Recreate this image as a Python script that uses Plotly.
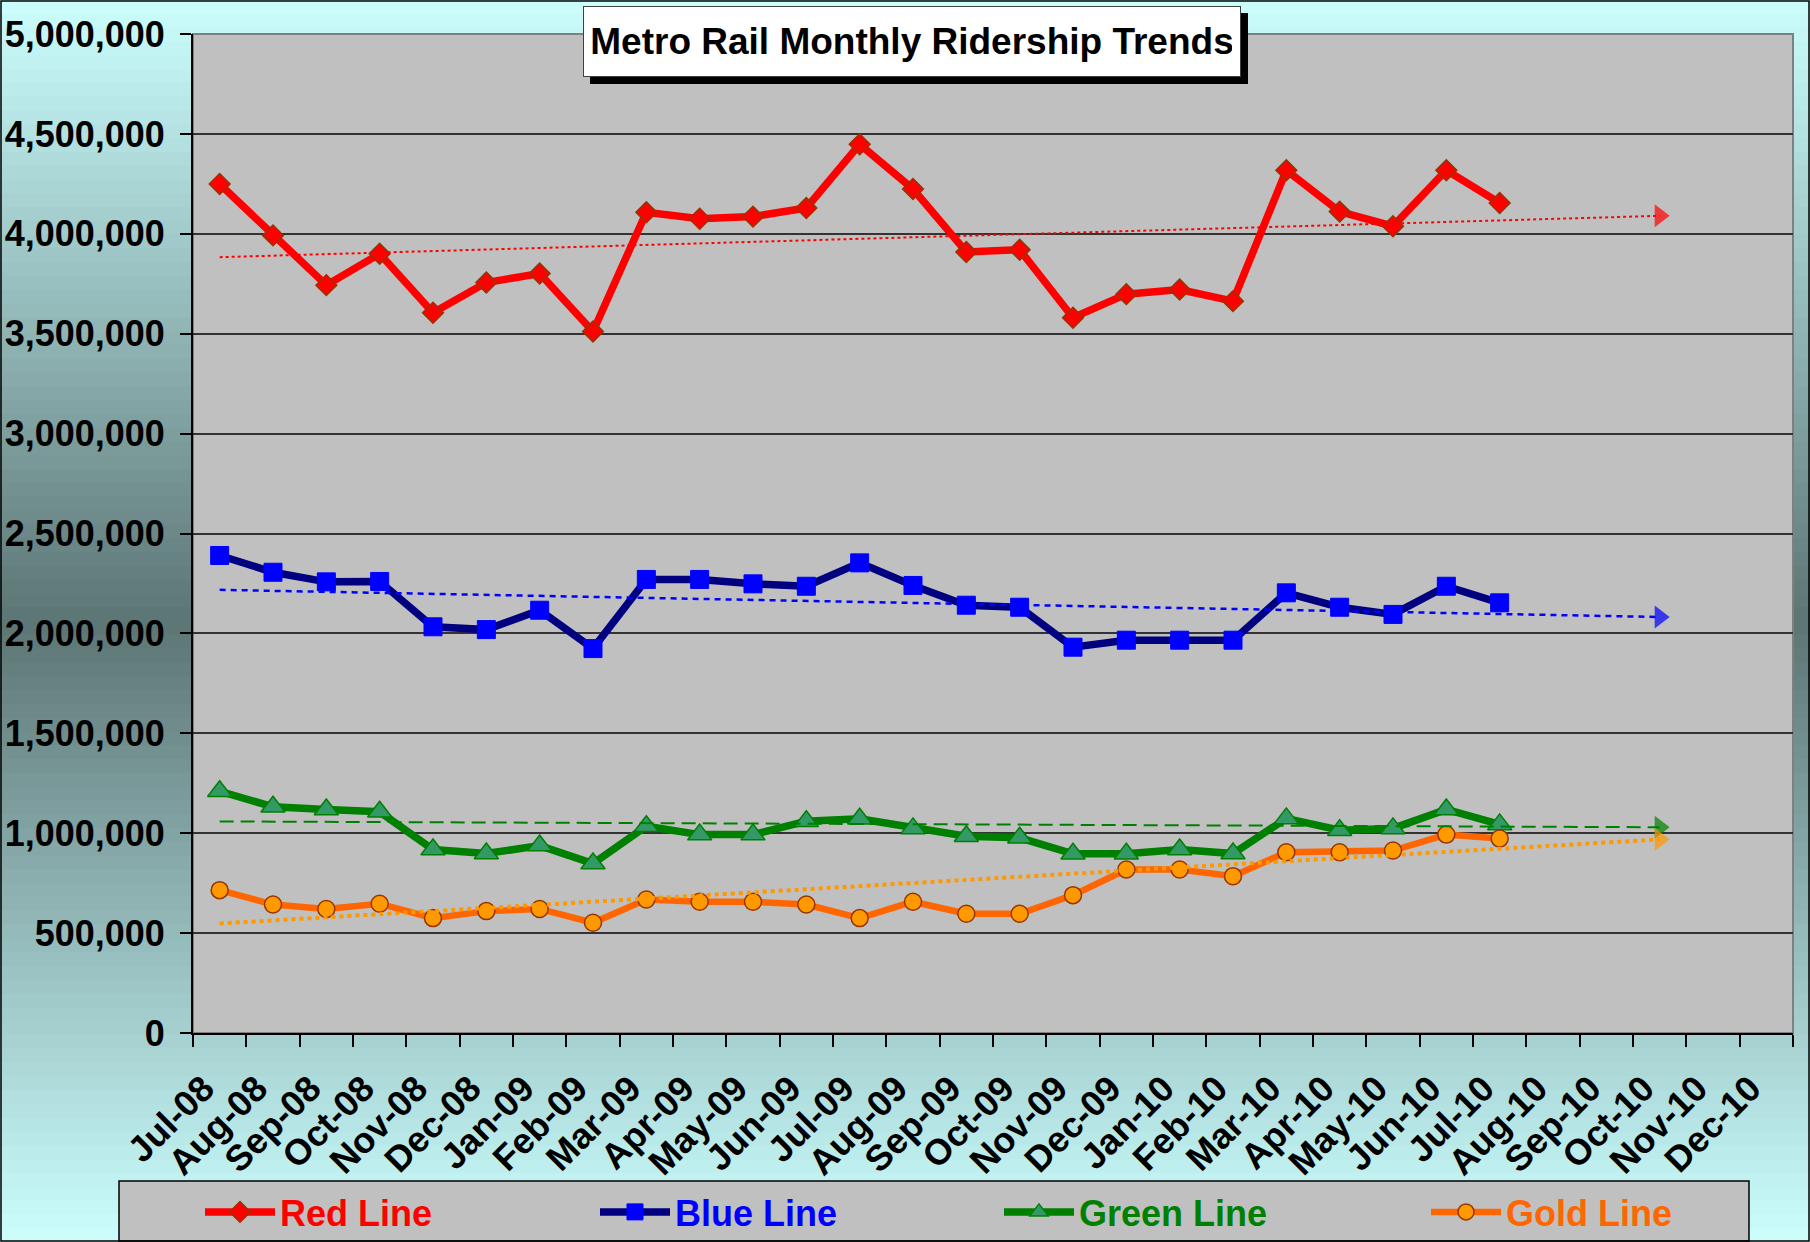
import plotly.graph_objects as go

# ---- data ----
months = ['Jul-08', 'Aug-08', 'Sep-08', 'Oct-08', 'Nov-08', 'Dec-08',
          'Jan-09', 'Feb-09', 'Mar-09', 'Apr-09', 'May-09', 'Jun-09',
          'Jul-09', 'Aug-09', 'Sep-09', 'Oct-09', 'Nov-09', 'Dec-09',
          'Jan-10', 'Feb-10', 'Mar-10', 'Apr-10', 'May-10', 'Jun-10',
          'Jul-10', 'Aug-10', 'Sep-10', 'Oct-10', 'Nov-10', 'Dec-10']

red_line = [4249000, 3992000, 3743000, 3900000, 3605000, 3756000, 3801000, 3511000,
            4108000, 4075000, 4086000, 4129000, 4448000, 4224000, 3909000, 3920000,
            3580000, 3698000, 3721000, 3663000, 4318000, 4111000, 4038000, 4318000, 4154000]
blue_line = [2390000, 2306000, 2258000, 2260000, 2033000, 2019000, 2116000, 1924000,
             2270000, 2270000, 2248000, 2236000, 2353000, 2240000, 2141000, 2131000,
             1931000, 1966000, 1966000, 1966000, 2203000, 2131000, 2095000, 2236000, 2153000]
green_line = [1210000, 1132000, 1119000, 1107000, 918000, 898000, 938000, 848000,
              1035000, 993000, 993000, 1060000, 1072000, 1024000, 985000, 977000,
              897000, 897000, 918000, 898000, 1074000, 1015000, 1024000, 1119000, 1044000]
gold_line = [715000, 643000, 621000, 647000, 575000, 610000, 621000, 552000,
             668000, 657000, 657000, 643000, 575000, 657000, 597000, 597000,
             690000, 818000, 818000, 785000, 905000, 905000, 913000, 993000, 973000]

# trendline ends (first month and forecast end), as drawn on the chart
trend_months = ['Jul-08', 'Oct-10']
red_trend = [3883000, 4090000]
blue_trend = [2218000, 2082000]
green_trend = [1059000, 1030000]
gold_trend = [548000, 969000]

# ---- figure geometry ----
W, H = 1810, 1242
L, R, T, B = 193, 17, 34, 209
PW, PH = W - L - R, H - T - B
FONT = 'Liberation Sans, Arial, sans-serif'

def px(x):
    return (x - L) / PW

def py(y):
    return (H - B - y) / PH

pos = {m: i for i, m in enumerate(months)}
x = [pos[m] for m in months[:len(red_line)]]
xt = [pos[m] for m in trend_months]

series = [
    ('Red Line', red_line, red_trend, '#ff0000', dict(symbol='diamond', size=16, color='#ff0000', line=dict(color='#993300', width=1.5)),
     dict(color='#ff0000', width=2, dash='dot'), '#ff0000', 280),
    ('Blue Line', blue_line, blue_trend, '#000080', dict(symbol='square', size=18, color='#0000ff', line=dict(color='#0000ff', width=1)),
     dict(color='#0000ff', width=2.5, dash='6px,5px'), '#0000ff', 675),
    ('Green Line', green_line, green_trend, '#008000', dict(symbol='triangle-up', size=21, color='#339966', line=dict(color='#008000', width=1.5)),
     dict(color='#008000', width=2, dash='14px,7px'), '#008000', 1079),
    ('Gold Line', gold_line, gold_trend, '#ff6600', dict(symbol='circle', size=17, color='#ff9900', line=dict(color='#993300', width=1.5)),
     dict(color='#ff9900', width=4, dash='dot'), '#ff6600', 1506),
]

fig = go.Figure()
legend_names = ['legend', 'legend2', 'legend3', 'legend4']

for (name, vals, trend, lc, mk, tl, txtc, tx), lg in zip(series, legend_names):
    fig.add_trace(go.Scatter(x=x, y=vals, name=name, mode='lines+markers',
                             line=dict(color=lc, width=7.5 if name != 'Gold Line' else 6.5),
                             marker=mk, legend=lg))

for (name, vals, trend, lc, mk, tl, txtc, tx) in series:
    fig.add_trace(go.Scatter(x=xt, y=trend, mode='lines+markers', line=tl,
                             marker=dict(symbol='triangle-right', size=[0, 20], color=tl['color'], line=dict(width=0)),
                             showlegend=False, hoverinfo='skip'))

# background gradient (light cyan -> dark slate -> light cyan)
shapes = []
light = (204, 255, 255)
dark = (92, 116, 116)
n = 90
for k in range(n):
    y0 = k * H / n
    y1 = (k + 1) * H / n
    t = abs((y0 + y1) / 2 - H / 2) / (H / 2)
    c = tuple(int(round(d + (l - d) * t)) for d, l in zip(dark, light))
    shapes.append(dict(type='rect', xref='paper', yref='paper', layer='below',
                       x0=px(0), x1=px(W), y0=py(y1 + 0.7), y1=py(y0),
                       fillcolor='rgb(%d,%d,%d)' % c, line=dict(width=0)))

# plot area
shapes.append(dict(type='rect', xref='paper', yref='paper', layer='below',
                   x0=0, x1=1, y0=0, y1=1, fillcolor='#c0c0c0', line=dict(color='#808080', width=2)))
# legend box
shapes.append(dict(type='rect', xref='paper', yref='paper', layer='below',
                   x0=px(119), x1=px(1749), y0=py(1241), y1=py(1181),
                   fillcolor='#c0c0c0', line=dict(color='black', width=1.5)))
# title box shadow
shapes.append(dict(type='rect', xref='paper', yref='paper', layer='above',
                   x0=px(590), x1=px(1248), y0=py(84), y1=py(13),
                   fillcolor='black', line=dict(width=0)))
# outer chart border
shapes.append(dict(type='rect', xref='paper', yref='paper', layer='above',
                   x0=px(1), x1=px(W - 1), y0=py(H - 1), y1=py(1),
                   line=dict(color='black', width=1.5)))

title = 'Metro Rail Monthly Ridership Trends'
annotations = [
    dict(text=title, x=px(912), y=py(41.5), xref='paper', yref='paper', showarrow=False,
         xanchor='center', yanchor='middle',
         font=dict(size=37, color='black', family=FONT, weight='bold'),
         bgcolor='white', bordercolor='#404040', borderwidth=1, borderpad=8,
         width=640, height=53),
]

fig.update_layout(
    width=W, height=H,
    margin=dict(l=L, r=R, t=T, b=B, autoexpand=False),
    paper_bgcolor='#ccffff', plot_bgcolor='rgba(0,0,0,0)',
    shapes=shapes, annotations=annotations,
    font=dict(family=FONT),
    xaxis=dict(range=[-0.5, 29.5], tickmode='array', tickvals=list(range(len(months))), ticktext=months,
               ticks='', showgrid=False, zeroline=False, showline=True, linecolor='black', linewidth=2,
               tickangle=-45, tickfont=dict(size=36, color='black', family=FONT, weight='bold'),
               ticklabelstandoff=18, ticklabelshift=-16,
               minor=dict(tickmode='linear', tick0=-0.5, dtick=1, ticks='outside', ticklen=12,
                          tickcolor='black', tickwidth=1.5, showgrid=False)),
    yaxis=dict(range=[0, 5000000], tick0=0, dtick=500000, tickformat=',d',
               showgrid=True, gridcolor='#333333', gridwidth=1.5, zeroline=False,
               showline=True, linecolor='black', linewidth=2,
               ticks='outside', ticklen=11, tickcolor='black', tickwidth=1.5,
               tickfont=dict(size=36, color='black', family=FONT, weight='bold'),
               ticklabelstandoff=8),
)

for (name, vals, trend, lc, mk, tl, txtc, tx), lg in zip(series, legend_names):
    fig.update_layout({lg: dict(x=px(tx - 80), y=py(1212), xanchor='left', yanchor='middle',
                                orientation='h', bgcolor='rgba(0,0,0,0)', borderwidth=0,
                                itemwidth=70,
                                font=dict(size=36, color=txtc, family=FONT, weight='bold'))})

fig.write_html("out.html", config={'displayModeBar': False},
               post_script="document.body.style.margin='0px';")
